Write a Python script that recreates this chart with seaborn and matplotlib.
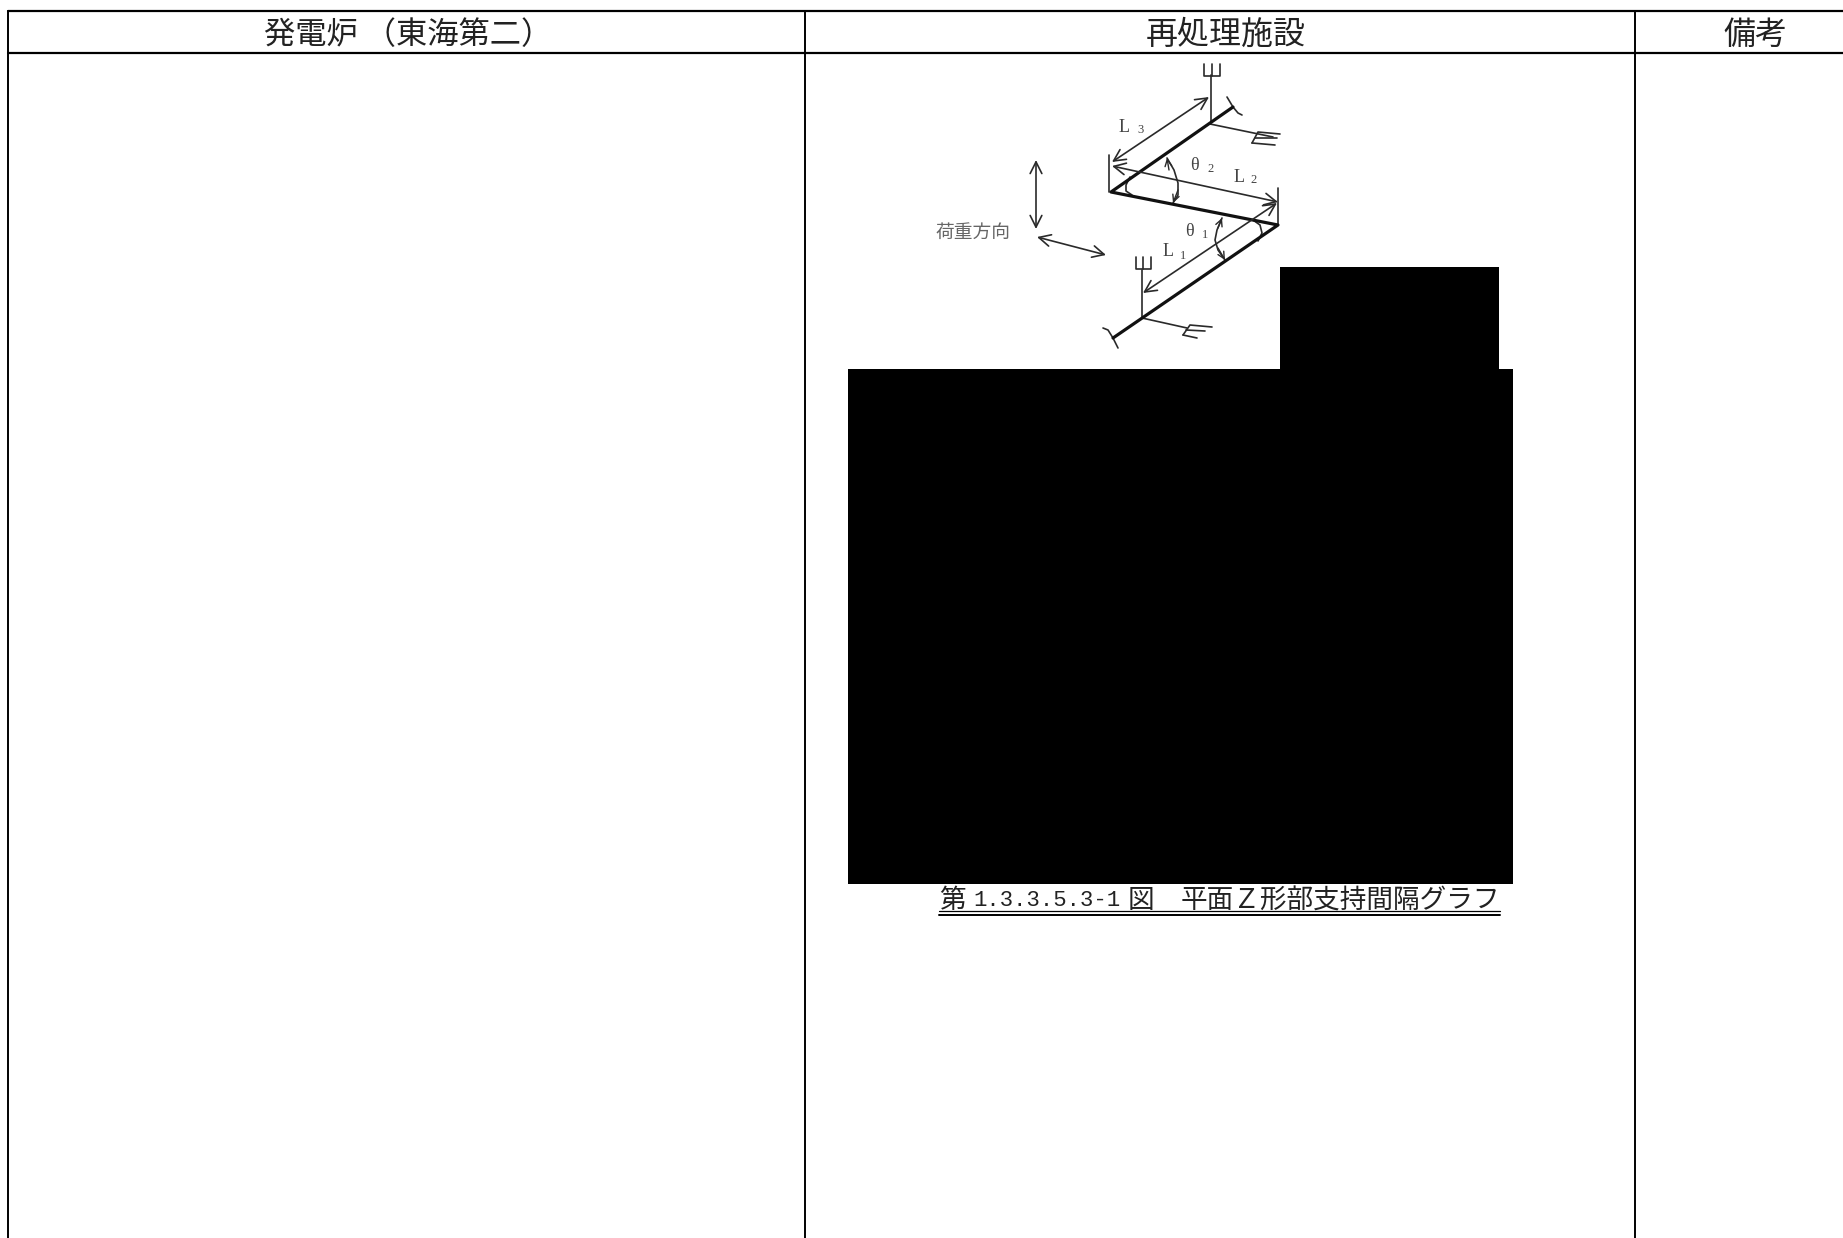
import pandas as pd
import seaborn as sns
import matplotlib.pyplot as plt
from matplotlib.patches import Rectangle

sns.set_theme(style="white")
plt.rcParams['font.family'] = ['Noto Sans CJK JP', 'DejaVu Sans']

headers = ["発電炉 （東海第二）", "再処理施設", "備考"]
load_label = "荷重方向"

# caption pieces: text, x
caption_cjk = [("第", 939), ("図", 1128), ("平面Ｚ形部支持間隔グラフ", 1181)]
caption_num = "1.3.3.5.3-1"

# pipe run of the sketch, page pixels
pipe_x = [1113, 1278, 1111, 1233]
pipe_y = [338, 225, 192, 107]

# thin parts: supports, tridents, curls, angle marks
thin = {
    "top_post": ([1211, 1211], [75, 122]),
    "top_fork": ([1204, 1204, 1220, 1220], [64, 76, 76, 64]),
    "top_mid": ([1212, 1212], [64, 76]),
    "top_branch": ([1210, 1273], [124, 137]),
    "top_e1": ([1252, 1258, 1280], [143, 132, 134]),
    "top_e2": ([1255, 1277], [138, 138]),
    "top_e3": ([1252, 1275], [143, 145]),
    "low_post": ([1142, 1142], [270, 318]),
    "low_fork": ([1136, 1136, 1151, 1151], [257, 269, 269, 257]),
    "low_mid": ([1143, 1143], [257, 269]),
    "low_branch": ([1142, 1187], [318, 328]),
    "low_e1": ([1183, 1190, 1212], [335, 325, 327]),
    "low_e2": ([1186, 1205], [330, 331]),
    "low_e3": ([1183, 1197], [335, 338]),
    "mark_left": ([1109, 1109], [155, 192]),
    "mark_right": ([1278, 1278], [188, 225]),
    "curl_top": ([1227, 1233, 1238, 1242], [97, 107, 113, 115]),
    "curl_low": ([1103, 1108, 1113, 1118], [328, 330, 338, 348]),
    "arc_t2": ([1167, 1174, 1178, 1178, 1173], [158, 170, 183, 195, 203]),
    "arc_t1": ([1222, 1217, 1215, 1218, 1225], [218, 230, 240, 250, 260]),
    "bend_a": ([1130, 1126, 1126, 1132], [177, 185, 191, 195]),
    "bend_b": ([1253, 1260, 1262, 1258], [220, 225, 233, 241]),
}

# double arrows
arrows = [
    ((1112, 162), (1209, 97)),
    ((1112, 166), (1278, 202)),
    ((1143, 293), (1277, 203)),
    ((1036, 160), (1036, 229)),
    ((1037, 237), (1106, 255)),
]
angle_arrows = [
    ((1167, 158), (1169, 170)),
    ((1173, 203), (1178, 190)),
    ((1222, 218), (1218, 228)),
    ((1225, 260), (1218, 248)),
]

# labels on the sketch: text, x, y
sketch_labels = [
    ("L", 1124, 127), ("3", 1140, 130),
    ("θ", 1194, 166), ("2", 1211, 169),
    ("L", 1239, 177), ("2", 1254, 180),
    ("θ", 1189, 231), ("1", 1205, 235),
    ("L", 1168, 252), ("1", 1183, 256),
]

# table rules
col_x = [8, 805, 1635]
top_y, head_y = 11, 53

# masked blocks (left, top, right, bottom)
blocks = [(848, 369, 1513, 884), (1280, 267, 1499, 369)]

fig, ax = plt.subplots(figsize=(18.43, 12.38), dpi=100)
fig.subplots_adjust(0, 0, 1, 1)
ax.set_xlim(0, 1843)
ax.set_ylim(1238, 0)
ax.axis("off")

# table grid
ax.plot([col_x[0], 1843], [top_y, top_y], color="black", lw=1.6)
ax.plot([col_x[0], 1843], [head_y, head_y], color="black", lw=1.6)
for x in col_x:
    ax.plot([x, x], [top_y, 1238], color="black", lw=1.4)

ax.text(408, 35, headers[0], fontsize=22.5, ha="center", va="center", color="#222222")
ax.text(1226, 35, headers[1], fontsize=23, ha="center", va="center", color="#222222")
ax.text(1755, 35, headers[2], fontsize=23, ha="center", va="center", color="#222222")

# sketch
rows = []
for name, (xs, ys) in thin.items():
    for x, y in zip(xs, ys):
        rows.append({"part": name, "x": x, "y": y})
thin_df = pd.DataFrame(rows)
sns.lineplot(data=thin_df, x="x", y="y", units="part", estimator=None, sort=False,
             color="#2a2a2a", lw=1.2, ax=ax, legend=False)
pipe_df = pd.DataFrame({"x": pipe_x, "y": pipe_y})
sns.lineplot(data=pipe_df, x="x", y="y", estimator=None, sort=False,
             color="#111111", lw=2.3, ax=ax, legend=False)

for a, b in arrows:
    ax.annotate("", xy=b, xytext=a,
                arrowprops=dict(arrowstyle="<->,head_length=0.7,head_width=0.35",
                                color="#2a2a2a", lw=1.2, shrinkA=0, shrinkB=0))
for a, b in angle_arrows:
    ax.annotate("", xy=a, xytext=b,
                arrowprops=dict(arrowstyle="->,head_length=0.4,head_width=0.2",
                                color="#2a2a2a", lw=1.0, shrinkA=0, shrinkB=0))

for txt, x, y in sketch_labels:
    small = txt in ("1", "2", "3")
    ax.text(x, y, txt, fontsize=9 if small else 13, ha="center", va="center",
            family="Liberation Serif", color="#444444")
ax.text(973, 232, load_label, fontsize=13.5, ha="center", va="center", color="#666666")

# masked blocks
for left, top, right, bottom in blocks:
    ax.add_patch(Rectangle((left, top), right - left, bottom - top,
                           facecolor="black", edgecolor="none", zorder=5))

# caption with double underline
for txt, x in caption_cjk:
    ax.text(x, 901, txt, fontsize=19.2, ha="left", va="center", color="#222222")
ax.text(973, 901, caption_num, fontsize=16, ha="left", va="center",
        family="Liberation Mono", color="#222222")
ax.plot([939, 1500], [911, 911], color="black", lw=0.9)
ax.plot([939, 1500], [915, 915], color="black", lw=1.4)

plt.savefig("out.png", dpi=100)
